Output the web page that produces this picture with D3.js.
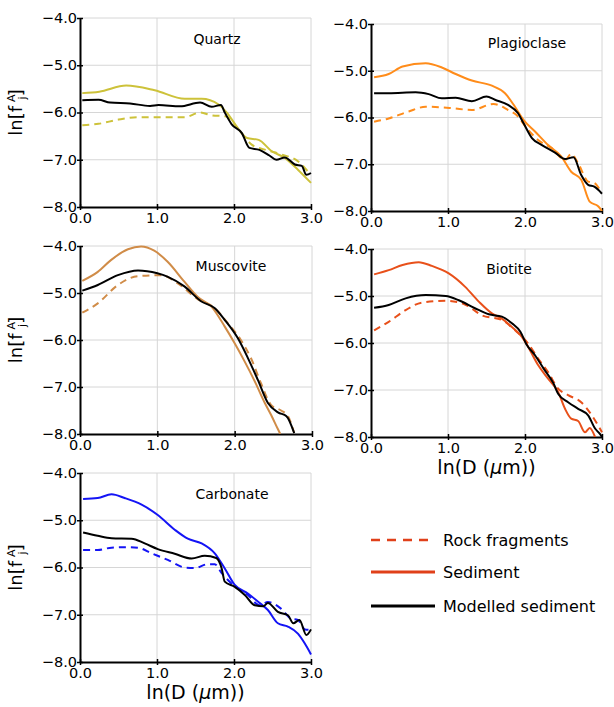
<!DOCTYPE html>
<html>
<head>
<meta charset="utf-8">
<script src="https://cdn.jsdelivr.net/npm/d3@7"></script>
<style>
  body { margin: 0; background: #fff; }
  svg { font-family: "DejaVu Sans", Verdana, sans-serif; }
</style>
</head>
<body>
<div id="chart"></div>
<script>
// Values: [ln(D), ln(f)]
const minerals = [ 'Quartz', 'Plagioclase', 'Muscovite', 'Biotite', 'Carbonate' ];
const mineralColors = [ '#cdc23a', '#ff8c1a', '#d08c48', '#e8501a', '#1414f5' ];
const xTicks = [ 0, 1, 2, 3 ];
const yTicks = [ -4, -5, -6, -7, -8 ];
const legendLabels = [ 'Rock fragments', 'Sediment', 'Modelled sediment' ];

const quartzRock = [[0.03,-6.27],[0.24,-6.24],[0.5,-6.15],[0.76,-6.10],[1.02,-6.10],[1.36,-6.10],[1.56,-6.00],[1.71,-6.06],[1.89,-6.08],[2.06,-6.36],[2.23,-6.68],[2.41,-6.79],[2.62,-6.89],[2.83,-7.03],[2.96,-7.25]];
const quartzSed = [[0.03,-5.59],[0.25,-5.56],[0.6,-5.43],[0.97,-5.53],[1.36,-5.71],[1.58,-5.71],[1.8,-5.83],[1.91,-6.01],[2.02,-6.26],[2.17,-6.54],[2.32,-6.58],[2.49,-6.82],[2.66,-6.96],[2.83,-7.21],[3.0,-7.49]];
const quartzModel = [[0.03,-5.74],[0.24,-5.73],[0.39,-5.79],[0.65,-5.81],[0.91,-5.86],[1.02,-5.84],[1.3,-5.87],[1.56,-5.79],[1.71,-5.88],[1.83,-5.84],[1.88,-6.0],[1.97,-6.25],[2.1,-6.43],[2.2,-6.75],[2.33,-6.79],[2.46,-6.91],[2.55,-7.0],[2.66,-6.95],[2.79,-7.1],[2.88,-7.13],[2.94,-7.32],[3.0,-7.28]];

const plagRock = [[0.04,-6.09],[0.23,-6.02],[0.49,-5.87],[0.71,-5.77],[1.05,-5.80],[1.31,-5.84],[1.59,-5.71],[1.78,-5.84],[1.91,-5.98],[2.0,-6.18],[2.17,-6.48],[2.35,-6.66],[2.52,-6.91],[2.6,-6.78],[2.69,-6.98],[2.82,-7.37],[2.9,-7.4],[2.97,-7.54]];
const plagSed = [[0.04,-5.14],[0.23,-5.07],[0.41,-4.91],[0.71,-4.84],[0.92,-4.93],[1.1,-5.07],[1.31,-5.21],[1.57,-5.32],[1.74,-5.48],[1.87,-5.77],[1.98,-6.05],[2.13,-6.30],[2.3,-6.59],[2.47,-6.83],[2.6,-7.16],[2.73,-7.33],[2.84,-7.8],[2.95,-7.9],[3.0,-8.0]];
const plagModel = [[0.04,-5.48],[0.23,-5.48],[0.58,-5.46],[0.75,-5.5],[0.92,-5.59],[1.1,-5.58],[1.31,-5.65],[1.5,-5.55],[1.61,-5.62],[1.78,-5.73],[1.91,-5.91],[1.98,-6.12],[2.09,-6.44],[2.22,-6.59],[2.39,-6.75],[2.52,-6.89],[2.63,-6.85],[2.73,-7.23],[2.82,-7.44],[2.9,-7.48],[3.0,-7.63]];

const muscRock = [[0.03,-5.42],[0.23,-5.22],[0.49,-4.83],[0.75,-4.64],[1.05,-4.62],[1.26,-4.79],[1.52,-5.13],[1.74,-5.32],[1.91,-5.64],[2.08,-6.0],[2.22,-6.42],[2.34,-6.92],[2.47,-7.38],[2.6,-7.5],[2.69,-7.62],[2.77,-7.98]];
const muscSed = [[0.03,-4.74],[0.23,-4.55],[0.4,-4.30],[0.62,-4.07],[0.79,-4.01],[0.96,-4.1],[1.13,-4.33],[1.35,-4.76],[1.52,-5.08],[1.7,-5.29],[1.87,-5.71],[2.0,-6.07],[2.13,-6.46],[2.26,-6.88],[2.39,-7.34],[2.47,-7.59],[2.56,-7.9],[2.59,-8.0]];
const muscModel = [[0.03,-4.95],[0.23,-4.83],[0.49,-4.62],[0.75,-4.52],[1.0,-4.58],[1.13,-4.65],[1.35,-4.86],[1.57,-5.18],[1.74,-5.32],[1.87,-5.57],[2.04,-5.96],[2.17,-6.38],[2.3,-6.85],[2.43,-7.34],[2.56,-7.54],[2.67,-7.62],[2.77,-7.98]];

const bioRock = [[0.04,-5.73],[0.23,-5.55],[0.45,-5.30],[0.66,-5.14],[0.97,-5.10],[1.22,-5.18],[1.44,-5.41],[1.7,-5.51],[1.87,-5.73],[2.04,-6.01],[2.17,-6.33],[2.3,-6.62],[2.43,-6.97],[2.56,-7.11],[2.73,-7.26],[2.86,-7.52],[3.0,-7.9]];
const bioSed = [[0.04,-4.54],[0.23,-4.45],[0.41,-4.34],[0.62,-4.28],[0.79,-4.36],[1.01,-4.52],[1.22,-4.80],[1.4,-5.12],[1.57,-5.37],[1.7,-5.48],[1.83,-5.66],[1.96,-5.87],[2.04,-6.08],[2.17,-6.47],[2.3,-6.76],[2.43,-7.04],[2.52,-7.40],[2.6,-7.61],[2.69,-7.66],[2.78,-7.9],[2.84,-7.81],[2.91,-8.0]];
const bioModel = [[0.04,-5.25],[0.23,-5.19],[0.45,-5.05],[0.71,-4.98],[0.97,-5.0],[1.14,-5.09],[1.35,-5.26],[1.53,-5.39],[1.7,-5.44],[1.83,-5.58],[1.94,-5.76],[2.02,-6.03],[2.13,-6.26],[2.24,-6.54],[2.37,-6.86],[2.43,-7.08],[2.56,-7.26],[2.69,-7.4],[2.82,-7.54],[2.91,-7.82],[2.97,-7.93],[3.0,-8.0]];

const carbRock = [[0.04,-5.63],[0.23,-5.63],[0.41,-5.58],[0.62,-5.57],[0.75,-5.58],[0.93,-5.70],[1.14,-5.84],[1.36,-6.0],[1.49,-6.01],[1.66,-5.93],[1.75,-5.93],[1.84,-6.12],[2.01,-6.40],[2.18,-6.58],[2.33,-6.80],[2.44,-6.73],[2.61,-6.87],[2.74,-7.08],[2.83,-7.11],[2.92,-7.31],[2.98,-7.32]];
const carbSed = [[0.04,-4.55],[0.23,-4.53],[0.41,-4.45],[0.58,-4.53],[0.8,-4.67],[1.01,-4.89],[1.23,-5.20],[1.4,-5.39],[1.58,-5.49],[1.75,-5.70],[1.88,-6.02],[2.01,-6.37],[2.18,-6.55],[2.31,-6.72],[2.44,-6.90],[2.57,-7.18],[2.7,-7.25],[2.83,-7.40],[2.92,-7.61],[3.0,-7.84]];
const carbModel = [[0.04,-5.26],[0.23,-5.33],[0.41,-5.38],[0.67,-5.39],[0.84,-5.49],[1.01,-5.61],[1.23,-5.71],[1.45,-5.81],[1.62,-5.75],[1.77,-5.80],[1.84,-6.02],[1.88,-6.30],[2.01,-6.41],[2.14,-6.58],[2.27,-6.80],[2.38,-6.82],[2.44,-6.75],[2.57,-6.94],[2.7,-7.01],[2.77,-7.18],[2.85,-7.11],[2.94,-7.43],[3.0,-7.31]];

const rockSeries = [ quartzRock, plagRock, muscRock, bioRock, carbRock ];
const sedSeries = [ quartzSed, plagSed, muscSed, bioSed, carbSed ];
const modelSeries = [ quartzModel, plagModel, muscModel, bioModel, carbModel ];

// panel placement on the page
const panels = [
  { left: 80,  top: 18,  width: 231, height: 189, tx: 137, ty: 26, yLabel: true,  xLabel: false },
  { left: 371, top: 24,  width: 231, height: 187, tx: 156, ty: 24, yLabel: false, xLabel: false },
  { left: 80,  top: 246, width: 232, height: 188, tx: 151, ty: 25, yLabel: true,  xLabel: false },
  { left: 371, top: 249, width: 231, height: 188, tx: 138, ty: 25, yLabel: false, xLabel: true },
  { left: 80,  top: 473, width: 231, height: 189, tx: 152, ty: 26, yLabel: true,  xLabel: true }
];

const svg = d3.select( '#chart' ).append( 'svg' )
  .attr( 'width', 614 )
  .attr( 'height', 707 );

panels.forEach( function( p, i ) {
  const g = svg.append( 'g' ).attr( 'transform', 'translate(' + p.left + ',' + p.top + ')' );

  const x = d3.scaleLinear().domain( [ 0, 3 ] ).range( [ 0, p.width ] );
  const y = d3.scaleLinear().domain( [ -8, -4 ] ).range( [ p.height, 0 ] );

  // grid
  g.append( 'g' ).selectAll( 'line' ).data( xTicks.slice( 1 ) ).enter().append( 'line' )
    .attr( 'x1', d => x( d ) ).attr( 'x2', d => x( d ) )
    .attr( 'y1', 0 ).attr( 'y2', p.height )
    .attr( 'stroke', '#d6d6d6' ).attr( 'stroke-width', 1 );
  g.append( 'g' ).selectAll( 'line' ).data( yTicks.slice( 0, 4 ) ).enter().append( 'line' )
    .attr( 'x1', 0 ).attr( 'x2', p.width )
    .attr( 'y1', d => y( d ) ).attr( 'y2', d => y( d ) )
    .attr( 'stroke', '#d6d6d6' ).attr( 'stroke-width', 1 );

  // axes
  const xAxis = g.append( 'g' )
    .attr( 'transform', 'translate(0,' + p.height + ')' )
    .call( d3.axisBottom( x ).tickValues( xTicks ).tickFormat( d3.format( '.1f' ) ).tickSize( 3 ).tickSizeOuter( 0 ) );
  const yAxis = g.append( 'g' )
    .call( d3.axisLeft( y ).tickValues( yTicks ).tickFormat( d3.format( '.1f' ) ).tickSize( 3 ).tickSizeOuter( 0 ) );

  [ xAxis, yAxis ].forEach( function( ax ) {
    ax.select( '.domain' ).attr( 'stroke', '#000' ).attr( 'stroke-width', 2 );
    ax.selectAll( '.tick line' ).attr( 'stroke', '#000' ).attr( 'stroke-width', 1.5 );
    ax.selectAll( 'text' ).attr( 'fill', '#000' ).style( 'font-size', '14.5px' )
      .style( 'font-family', '"DejaVu Sans", Verdana, sans-serif' );
  });
  xAxis.selectAll( '.tick line' ).attr( 'y1', -3 ).attr( 'y2', 3 );
  xAxis.selectAll( '.tick text' ).attr( 'y', 6 );
  yAxis.selectAll( '.tick line' ).attr( 'x1', 3 ).attr( 'x2', -3 );
  yAxis.selectAll( '.tick text' ).attr( 'x', -3 ).attr( 'dy', '0.3em' );

  // curves
  const clipId = 'clip' + i;
  g.append( 'clipPath' ).attr( 'id', clipId )
    .append( 'rect' ).attr( 'x', -1 ).attr( 'y', -2 ).attr( 'width', p.width + 2 ).attr( 'height', p.height + 2 );

  const line = d3.line()
    .x( d => x( d[0] ) )
    .y( d => y( d[1] ) )
    .curve( d3.curveMonotoneX );

  const plot = g.append( 'g' ).attr( 'clip-path', 'url(#' + clipId + ')' );
  plot.append( 'path' ).datum( rockSeries[i] )
    .attr( 'd', line ).attr( 'fill', 'none' )
    .attr( 'stroke', mineralColors[i] ).attr( 'stroke-width', 2 )
    .attr( 'stroke-dasharray', '7,5' );
  plot.append( 'path' ).datum( sedSeries[i] )
    .attr( 'd', line ).attr( 'fill', 'none' )
    .attr( 'stroke', mineralColors[i] ).attr( 'stroke-width', 2 );
  plot.append( 'path' ).datum( modelSeries[i] )
    .attr( 'd', line ).attr( 'fill', 'none' )
    .attr( 'stroke', '#000' ).attr( 'stroke-width', 2 );

  // mineral name
  g.append( 'text' )
    .attr( 'x', p.tx ).attr( 'y', p.ty )
    .attr( 'text-anchor', 'middle' )
    .style( 'font-size', '14px' )
    .text( minerals[i] );

  if ( p.yLabel ) {
    const t = g.append( 'text' )
      .attr( 'transform', 'translate(' + ( 22 - p.left ) + ',' + ( p.height / 2 ) + ') rotate(-90)' )
      .attr( 'text-anchor', 'middle' )
      .style( 'font-size', '18px' );
    t.append( 'tspan' ).text( 'ln[f' );
    t.append( 'tspan' ).attr( 'dx', 4 ).attr( 'dy', -7 ).style( 'font-size', '11px' ).text( 'A' );
    t.append( 'tspan' ).attr( 'dx', -5 ).attr( 'dy', 11 ).style( 'font-size', '11px' ).text( 'j' );
    t.append( 'tspan' ).attr( 'dy', -4 ).text( ']' );
  }

  if ( p.xLabel ) {
    const t = g.append( 'text' )
      .attr( 'x', p.width / 2 ).attr( 'y', p.height + 37 )
      .attr( 'text-anchor', 'middle' )
      .style( 'font-size', '19px' );
    t.append( 'tspan' ).text( 'ln(D (' );
    t.append( 'tspan' ).style( 'font-style', 'italic' ).text( 'μ' );
    t.append( 'tspan' ).text( 'm))' );
  }
});

// legend
const legendColor = '#e0401a';
const legend = svg.append( 'g' ).attr( 'transform', 'translate(371,540)' );
legendLabels.forEach( function( label, i ) {
  const row = legend.append( 'g' ).attr( 'transform', 'translate(0,' + [ 0, 32, 66 ][i] + ')' );
  row.append( 'line' )
    .attr( 'x1', 0 ).attr( 'x2', 64 ).attr( 'y1', 0 ).attr( 'y2', 0 )
    .attr( 'stroke', i === 2 ? '#000' : legendColor )
    .attr( 'stroke-width', i === 0 ? 2.5 : 3 )
    .attr( 'stroke-dasharray', i === 0 ? '9,7' : null );
  row.append( 'text' )
    .attr( 'x', 72 ).attr( 'y', 0 ).attr( 'dy', '0.35em' )
    .style( 'font-size', '16px' )
    .text( label );
});
</script>
</body>
</html>
